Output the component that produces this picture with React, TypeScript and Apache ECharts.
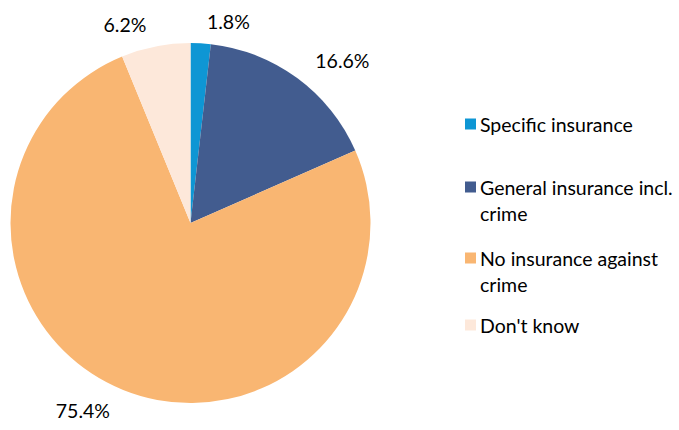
import React, { useEffect, useRef } from "react";
import * as echarts from "echarts";

const categories = [
  "Specific insurance",
  "General insurance incl. crime",
  "No insurance against crime",
  "Don't know",
];
const legendLabels = [
  "Specific insurance",
  "General insurance incl.\ncrime",
  "No insurance against\ncrime",
  "Don't know",
];
const values = [1.8, 16.6, 75.4, 6.2];
const colors = ["#0E96D4", "#425C8F", "#F9B672", "#FDE8DA"];
const legendTops = [111, 174, 245, 312];

export default function App() {
  const ref = useRef<HTMLDivElement>(null);
  useEffect(() => {
    if (!ref.current) return;
    const chart = echarts.init(ref.current, null, { renderer: "svg" });
    const font = "Lato";
    const lh = 26;
    const sq = 11;
    const legends = categories.map((c, i) => {
      const lines = legendLabels[i].split("\n").length;
      const totalH = lines * lh;
      // icon box centered in the item; square placed at first line
      const iconH = totalH - 2 * (lh / 2 - sq / 2);
      const icon =
        lines > 1
          ? `path://M0,0L${sq},0L${sq},${sq}L0,${sq}ZM0,${iconH}L0.001,${iconH}Z`
          : "rect";
      return {
        data: [c],
        left: 465,
        top: legendTops[i],
        orient: "vertical",
        icon,
        itemWidth: sq,
        itemHeight: lines > 1 ? iconH : sq,
        itemGap: 0,
        padding: 0,
        selectedMode: false,
        formatter: () => legendLabels[i],
        textStyle: {
          fontFamily: font,
          fontSize: 19.5,
          color: "#000",
          lineHeight: lh,
          padding: [0, 0, 0, -1],
        },
      };
    });
    chart.setOption({
      animation: false,
      color: colors,
      legend: legends,
      series: [
        {
          type: "pie",
          center: [190.5, 223],
          radius: 180,
          startAngle: 90,
          clockwise: true,
          data: categories.map((c, i) => ({ name: c, value: values[i] })),
          itemStyle: { borderWidth: 0 },
          label: {
            show: true,
            position: "outside",
            formatter: (p: any) => p.value.toFixed(1) + "%",
            fontFamily: font,
            fontSize: 19.5,
            color: "#000",
          },
          labelLine: { show: false, length: 22, length2: 0 },
        },
      ],
    });
    return () => chart.dispose();
  }, []);
  return (
    <div
      ref={ref}
      style={{ position: "fixed", left: 0, top: 0, width: 679, height: 430, background: "#fff" }}
    />
  );
}
